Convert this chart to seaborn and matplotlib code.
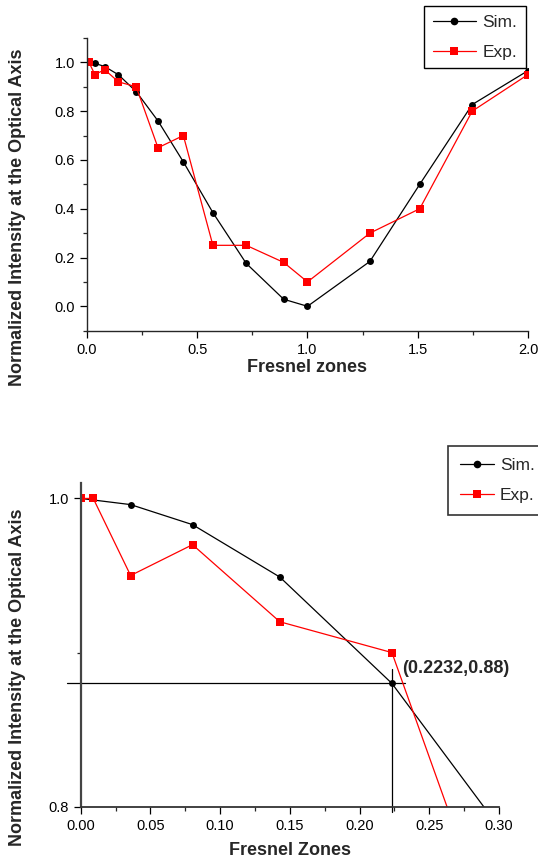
import numpy as np
import pandas as pd
import seaborn as sns
import matplotlib.pyplot as plt
from matplotlib.ticker import MultipleLocator

# values
sim_x = [0.0, 0.0358, 0.0802, 0.1428, 0.2232, 0.322, 0.437, 0.571, 0.722, 0.892, 1.0, 1.283, 1.509, 1.747, 2.0]
sim_y = [1.0, 0.996, 0.983, 0.949, 0.88, 0.76, 0.592, 0.384, 0.176, 0.029, 0.0, 0.184, 0.50, 0.827, 0.966]
exp_x = [0.0, 0.009, 0.0358, 0.0802, 0.1428, 0.2232, 0.322, 0.437, 0.571, 0.722, 0.892, 1.0, 1.283, 1.509, 1.747, 2.0]
exp_y = [1.0, 1.0, 0.95, 0.97, 0.92, 0.90, 0.65, 0.70, 0.25, 0.25, 0.18, 0.10, 0.30, 0.40, 0.80, 0.95]
mark_x, mark_y = 0.2232, 0.88

sns.set_style("ticks")
plt.rcParams['font.family'] = ['Liberation Sans', 'DejaVu Sans']
plt.rcParams['axes.linewidth'] = 1.0

df_sim = pd.DataFrame({"x": sim_x, "y": sim_y})
df_exp = pd.DataFrame({"x": exp_x, "y": exp_y})

fig = plt.figure(figsize=(5.38, 8.63), dpi=100)
ax1 = fig.add_axes([0.1617, 0.6168, 0.8197, 0.3392])
ax2 = fig.add_axes([0.15, 0.0652, 0.7775, 0.3751])

LABEL_FS = 13
LEG_FS = 12.5


def draw(ax):
    sns.lineplot(data=df_sim, x="x", y="y", ax=ax, sort=False, estimator=None,
                 color="black", marker="o", markersize=5, markeredgewidth=0,
                 linewidth=0.9, label="Sim.")
    sns.lineplot(data=df_exp, x="x", y="y", ax=ax, sort=False, estimator=None,
                 color="red", marker="s", markersize=5.5, markeredgewidth=0,
                 linewidth=0.9, label="Exp.")
    for s in ["top", "right"]:
        ax.spines[s].set_visible(False)
    ax.tick_params(which="major", direction="out", length=5, width=0.9, labelsize=10.5, colors="black")
    ax.tick_params(which="minor", direction="out", length=3, width=0.9)


# --- top panel ---
draw(ax1)
ax1.set_xlim(0, 2.0)
ax1.set_ylim(-0.1, 1.1)
ax1.xaxis.set_major_locator(MultipleLocator(0.5))
ax1.xaxis.set_minor_locator(MultipleLocator(0.25))
ax1.yaxis.set_minor_locator(MultipleLocator(0.1))
ax1.set_yticks([0.0, 0.2, 0.4, 0.6, 0.8, 1.0])
ax1.set_xlabel("Fresnel zones", fontsize=LABEL_FS, fontweight="bold")
ax1.set_ylabel("Normalized Intensity at the Optical Axis", fontsize=LABEL_FS, fontweight="bold")
ax1.yaxis.set_label_coords(-0.138, 0.388)
ax1.xaxis.set_label_coords(0.5, -0.097)
ax1.legend(loc="upper right", bbox_to_anchor=(0.978, 0.993), bbox_transform=fig.transFigure,
           borderaxespad=0, fontsize=LEG_FS, frameon=True, fancybox=False, edgecolor="black",
           framealpha=1, handlelength=2.5, labelspacing=0.85, borderpad=0.5, handletextpad=0.38,
           markerscale=1.1)
ax1.get_legend().get_frame().set_linewidth(1.0)

# --- bottom panel (zoom near the first zone) ---
draw(ax2)
ax2.set_xlim(0, 0.30)
ax2.set_ylim(0.8, 1.01)
ax2.xaxis.set_major_locator(MultipleLocator(0.05))
ax2.xaxis.set_minor_locator(MultipleLocator(0.025))
ax2.set_yticks([0.8, 1.0])
ax2.yaxis.set_minor_locator(MultipleLocator(0.1))
ax2.xaxis.set_major_formatter(plt.FormatStrFormatter("%.2f"))
ax2.spines["left"].set_linewidth(1.6)
ax2.spines["left"].set_color("#444444")
ax2.spines["bottom"].set_linewidth(1.3)
ax2.spines["bottom"].set_color("#333333")

# cross lines marking the first-zone point
ax2.plot([-0.0096, 0.2323], [mark_y, mark_y], color="black", linewidth=0.9, clip_on=False, zorder=1)
ax2.plot([mark_x, mark_x], [0.7967, 0.8893], color="black", linewidth=0.9, clip_on=False, zorder=1)
ax2.annotate(f"({mark_x},{mark_y:.2f})", xy=(mark_x, mark_y), xytext=(7, 10.5),
             textcoords="offset points", fontsize=LABEL_FS, fontweight="bold", va="center", ha="left")

ax2.set_xlabel("Fresnel Zones", fontsize=LABEL_FS, fontweight="bold")
ax2.set_ylabel("Normalized Intensity at the Optical Axis", fontsize=LABEL_FS, fontweight="bold")
ax2.yaxis.set_label_coords(-0.131, 0.40)
ax2.xaxis.set_label_coords(0.5, -0.11)
ax2.legend(loc="upper left", bbox_to_anchor=(0.832, 0.4836), bbox_transform=fig.transFigure,
           borderaxespad=0, fontsize=LEG_FS, frameon=True, fancybox=False, edgecolor="#333333",
           framealpha=1, handlelength=2.0, labelspacing=0.85, borderpad=0.7, handletextpad=0.3,
           markerscale=1.1)
ax2.get_legend().get_frame().set_linewidth(1.2)

fig.savefig("out.png", dpi=100)
